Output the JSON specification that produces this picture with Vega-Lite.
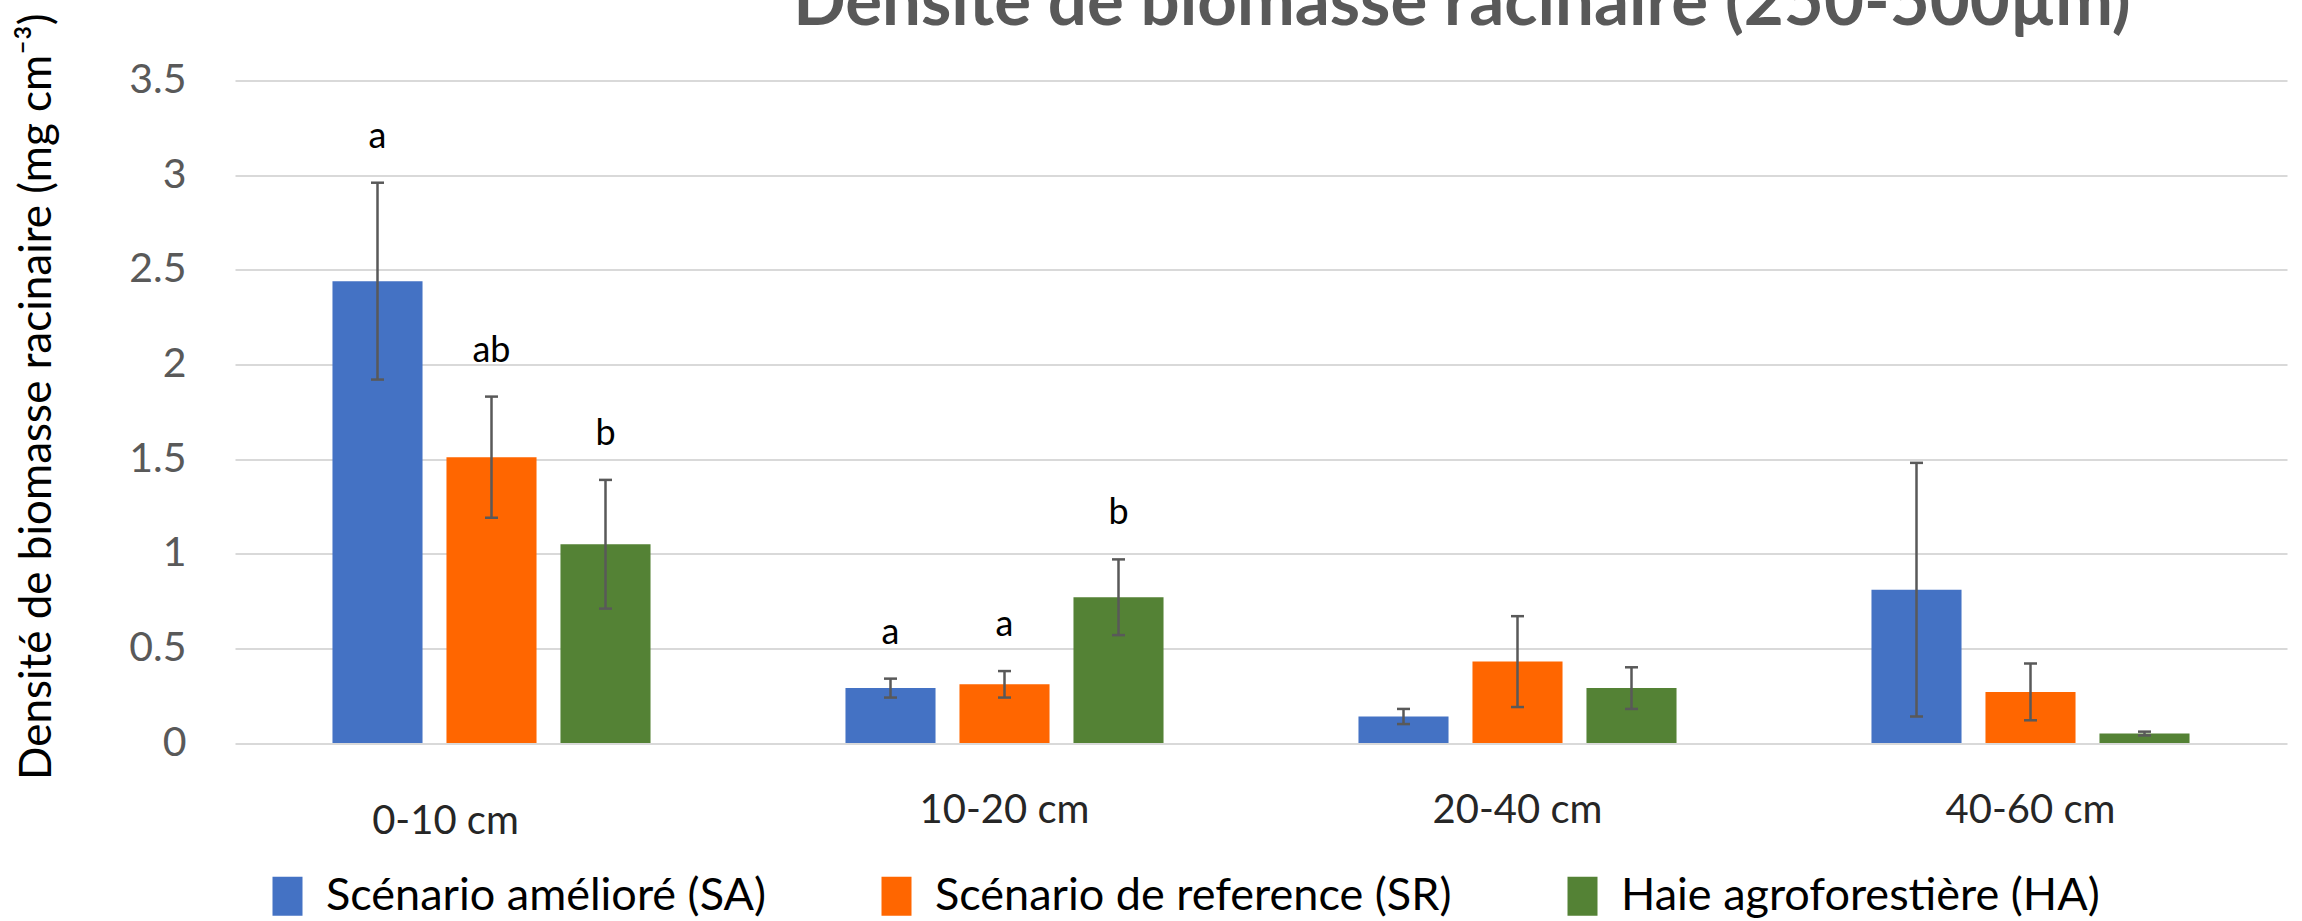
{
  "$schema": "https://vega.github.io/schema/vega-lite/v6.json",
  "width": 2052,
  "height": 662.5,
  "autosize": {"type": "none"},
  "padding": {"left": 235, "top": 80.5, "right": 15, "bottom": 178},
  "background": "white",
  "config": {"view": {"stroke": null}, "font": "Lato"},
  "title": {
    "text": "Densité de biomasse racinaire (250-500µm)",
    "anchor": "middle",
    "frame": "group",
    "dx": 201,
    "dy": 56,
    "baseline": "alphabetic",
    "offset": -25,
    "fontSize": 69,
    "fontWeight": "bold",
    "color": "#595959",
    "font": "Lato"
  },
  "data": {
    "values": [
      {"depth": "0-10 cm", "scenario": "Scénario amélioré (SA)", "value": 2.44, "lo": 1.92, "hi": 2.96, "letter": "a"},
      {"depth": "0-10 cm", "scenario": "Scénario de reference (SR)", "value": 1.51, "lo": 1.19, "hi": 1.83, "letter": "ab"},
      {"depth": "0-10 cm", "scenario": "Haie agroforestière (HA)", "value": 1.05, "lo": 0.71, "hi": 1.39, "letter": "b"},
      {"depth": "10-20 cm", "scenario": "Scénario amélioré (SA)", "value": 0.29, "lo": 0.24, "hi": 0.34, "letter": "a"},
      {"depth": "10-20 cm", "scenario": "Scénario de reference (SR)", "value": 0.31, "lo": 0.24, "hi": 0.38, "letter": "a"},
      {"depth": "10-20 cm", "scenario": "Haie agroforestière (HA)", "value": 0.77, "lo": 0.57, "hi": 0.97, "letter": "b"},
      {"depth": "20-40 cm", "scenario": "Scénario amélioré (SA)", "value": 0.14, "lo": 0.10, "hi": 0.18, "letter": ""},
      {"depth": "20-40 cm", "scenario": "Scénario de reference (SR)", "value": 0.43, "lo": 0.19, "hi": 0.67, "letter": ""},
      {"depth": "20-40 cm", "scenario": "Haie agroforestière (HA)", "value": 0.29, "lo": 0.18, "hi": 0.40, "letter": ""},
      {"depth": "40-60 cm", "scenario": "Scénario amélioré (SA)", "value": 0.81, "lo": 0.14, "hi": 1.48, "letter": ""},
      {"depth": "40-60 cm", "scenario": "Scénario de reference (SR)", "value": 0.27, "lo": 0.12, "hi": 0.42, "letter": ""},
      {"depth": "40-60 cm", "scenario": "Haie agroforestière (HA)", "value": 0.05, "lo": 0.04, "hi": 0.06, "letter": ""}
    ]
  },
  "encoding": {
    "x": {
      "field": "depth",
      "type": "nominal",
      "sort": ["0-10 cm", "10-20 cm", "20-40 cm", "40-60 cm"],
      "scale": {"paddingInner": 0.38, "paddingOuter": 0.19},
      "axis": {
        "title": null,
        "domain": false,
        "ticks": false,
        "labelAngle": 0,
        "labelFont": "Lato",
        "labelFontSize": 40,
        "labelColor": "#262626",
        "labelBaseline": "alphabetic",
        "labelPadding": {"condition": {"test": "datum.value === '0-10 cm'", "value": 90}, "value": 79},
        "labelOffset": {"condition": {"test": "datum.value === '0-10 cm'", "value": -46}, "value": 0}
      }
    },
    "xOffset": {
      "field": "scenario",
      "type": "nominal",
      "sort": ["Scénario amélioré (SA)", "Scénario de reference (SR)", "Haie agroforestière (HA)"],
      "scale": {"paddingInner": 0.21, "paddingOuter": 0}
    }
  },
  "layer": [
    {
      "mark": {"type": "bar"},
      "encoding": {
        "y": {
          "field": "value",
          "type": "quantitative",
          "scale": {"domain": [0, 3.5], "nice": false},
          "axis": {
            "title": "Densité de biomasse racinaire (mg cm⁻³)",
            "values": [0, 0.5, 1, 1.5, 2, 2.5, 3, 3.5],
            "format": "~g",
            "domain": false,
            "ticks": false,
            "labelPadding": 49,
            "labelFont": "Lato",
            "labelFontSize": 41,
            "labelColor": "#595959",
            "gridColor": "#d9d9d9",
            "gridWidth": 2,
            "titleFont": "Lato",
            "titleFontSize": 44,
            "titleFontWeight": "normal",
            "titleColor": "#000000",
            "titleAngle": -90,
            "titleAlign": "left",
            "titleBaseline": "alphabetic",
            "titleX": -185,
            "titleY": 699
          }
        },
        "color": {
          "field": "scenario",
          "type": "nominal",
          "sort": ["Scénario amélioré (SA)", "Scénario de reference (SR)", "Haie agroforestière (HA)"],
          "scale": {
            "domain": ["Scénario amélioré (SA)", "Scénario de reference (SR)", "Haie agroforestière (HA)"],
            "range": ["#4472C4", "#FF6600", "#548235"]
          },
          "legend": {
            "orient": "none",
            "legendX": 30,
            "legendY": 793,
            "direction": "horizontal",
            "title": null,
            "symbolType": "M-1,-1.3H1V1.3H-1Z",
            "symbolSize": 900,
            "symbolStrokeWidth": 0,
            "symbolOpacity": 1,
            "labelFont": "Lato",
            "labelFontSize": 45,
            "labelColor": "#000000",
            "labelOffset": 16,
            "labelLimit": 0,
            "columnPadding": 108,
            "padding": 0
          }
        }
      }
    },
    {
      "mark": {"type": "rule", "color": "#595959", "strokeWidth": 2.5},
      "encoding": {
        "y": {"field": "lo", "type": "quantitative", "title": "Densité de biomasse racinaire (mg cm⁻³)"},
        "y2": {"field": "hi"}
      }
    },
    {
      "mark": {"type": "tick", "color": "#595959", "thickness": 2.5, "size": 13, "opacity": 1},
      "encoding": {
        "y": {"field": "lo", "type": "quantitative", "title": "Densité de biomasse racinaire (mg cm⁻³)"}
      }
    },
    {
      "mark": {"type": "tick", "color": "#595959", "thickness": 2.5, "size": 13, "opacity": 1},
      "encoding": {
        "y": {"field": "hi", "type": "quantitative", "title": "Densité de biomasse racinaire (mg cm⁻³)"}
      }
    },
    {
      "mark": {"type": "text", "dy": -35, "fontSize": 36, "baseline": "alphabetic", "font": "Lato", "color": "#000000"},
      "encoding": {
        "y": {"field": "hi", "type": "quantitative", "title": "Densité de biomasse racinaire (mg cm⁻³)"},
        "text": {"field": "letter"}
      }
    }
  ]
}
